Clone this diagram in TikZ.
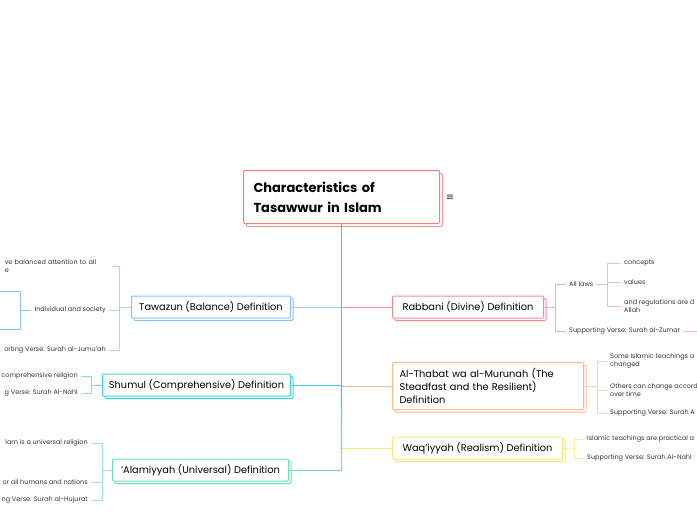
\documentclass[tikz,border=0pt]{standalone}
\usepackage{fontspec}
\setmainfont{Poppins}
\newfontfamily\symfont{DejaVu Sans}
\usetikzlibrary{positioning,shadows,calc}

\definecolor{rootred}{HTML}{F47C7C}
\definecolor{trunkteal}{HTML}{3CCFB3}
\definecolor{tawblue}{HTML}{8AC1F5}
\definecolor{shumcyan}{HTML}{3FD3D6}
\definecolor{almint}{HTML}{6EDFB5}
\definecolor{rabred}{HTML}{F78B8B}
\definecolor{thaorange}{HTML}{FDBA8C}
\definecolor{waqyellow}{HTML}{F6E77A}
\definecolor{leaftext}{HTML}{333333}

\tikzset{
	rootbox/.style={draw=rootred, fill=white, line width=1pt, rounded corners=1pt,
		copy shadow={shadow xshift=3pt, shadow yshift=-3pt, draw=rootred!80, fill=white},
		font=\fontsize{13}{20}\selectfont\bfseries, align=left, text width=176pt,
		inner xsep=10pt, minimum height=53pt, anchor=north west},
	topic/.style={draw=#1, fill=white, line width=1pt, rounded corners=1pt,
		copy shadow={shadow xshift=2.5pt, shadow yshift=-2.5pt, draw=#1, fill=white},
		font=\fontsize{9.8}{12.8}\selectfont, minimum height=22pt, inner xsep=6pt, anchor=west},
	leaf/.style={font=\fontsize{6.5}{8.5}\selectfont, text=leaftext, inner xsep=3pt, inner ysep=1pt, align=left},
	link/.style={draw=#1, line width=0.9pt},
}

\begin{document}
\begin{tikzpicture}[x=1pt, y=-1pt]
	\useasboundingbox (0,0) rectangle (697,520);

	% central topic
	\node[rootbox] (root) at (243,170) {Characteristics of\\Tasawwur in Islam};
	\node[font=\symfont\fontsize{10}{10}\selectfont, text=black!80] (menu) at (450,198) {≡};

	% main topics
	\node[topic=tawblue, minimum width=159pt] (tawazun) at (131,307) {Tawazun (Balance) Definition};
	\node[topic=shumcyan, minimum width=188pt] (shumul) at (102,385) {Shumul (Comprehensive) Definition};
	\node[topic=almint, minimum width=176pt] (alamiyyah) at (112,470) {'Alamiyyah (Universal) Definition};
	\node[topic=rabred, minimum width=151pt] (rabbani) at (392,307) {Rabbani (Divine) Definition};
	\node[topic=thaorange, minimum width=191pt, minimum height=47pt, text width=177pt, align=left,
		inner xsep=7pt] (thabat) at (392,386) {Al-Thabat wa al-Murunah (The\\Steadfast and the Resilient)\\Definition};
	\node[topic=waqyellow, minimum width=170pt] (waqiyyah) at (392,448) {Waq'iyyah (Realism) Definition};

	% trunk
	\draw[link=trunkteal, line width=1.2pt] (root.south) -- (root.south |- shumul.east);
	\shade[top color=trunkteal, bottom color=almint!80]
		($(root.south |- shumul.east)+(-0.6,0)$) rectangle ($(root.south |- alamiyyah.east)+(0.6,0)$);
	\draw[link=tawblue!80] (tawazun.east) -- (tawazun.east -| root.south);
	\draw[link=shumcyan] (shumul.east) -- (shumul.east -| root.south);
	\draw[link=almint] (alamiyyah.east) -- (alamiyyah.east -| root.south);
	\draw[link=rabred] (root.south |- rabbani.west) -- (rabbani.west);
	\draw[link=thaorange] (root.south |- thabat.west) -- (thabat.west);
	\draw[link=waqyellow] (root.south |- waqiyyah.west) -- (waqiyyah.west);

	% Tawazun
	\node[leaf, anchor=east, text width=104pt] (tw1) at (112,266) {ve balanced attention to all\\e};
	\node[leaf, anchor=east] (tw2) at (109,310) {Individual and society};
	\node[leaf, anchor=east] (tw3) at (109,350) {orting Verse: Surah al-Jumu'ah};
	\coordinate (tw21) at (0,291);
	\coordinate (tw22) at (0,329);
	\foreach \t in {tw1,tw2,tw3}
		\draw[link=tawblue!70] (tawazun.west) -- ++(-12,0) |- (\t.east);
	\foreach \t in {tw21,tw22}
		\draw[link=tawblue] (tw2.west) -- ++(-11,0) |- (\t);

	% Shumul
	\node[leaf, anchor=east] (sh1) at (81,376) {comprehensive religion};
	\node[leaf, anchor=east] (sh2) at (81,393) {g Verse: Surah Al-Nahl};
	\foreach \t in {sh1,sh2}
		\draw[link=shumcyan!70] (shumul.west) -- ++(-11,0) |- (\t.east);

	% 'Alamiyyah
	\node[leaf, anchor=east] (al1) at (91,443) {lam is a universal religion};
	\node[leaf, anchor=east] (al2) at (91,482) {or all humans and nations};
	\node[leaf, anchor=east] (al3) at (91,500) {ng Verse: Surah al-Hujurat};
	\foreach \t in {al1,al2,al3}
		\draw[link=almint!70] (alamiyyah.west) -- ++(-10,0) |- (\t.east);

	% Rabbani
	\node[leaf, anchor=west] (rb1) at (566,284) {All laws};
	\node[leaf, anchor=west] (rb2) at (566,331) {Supporting Verse: Surah al-Zumar};
	\coordinate (rb21) at (697,331);
	\node[leaf, anchor=west] (rb11) at (621,263) {concepts};
	\node[leaf, anchor=west] (rb12) at (621,282) {values};
	\node[leaf, anchor=west] (rb13) at (621,306) {and regulations are d\\Allah};
	\foreach \t in {rb1,rb2}
		\draw[link=rabred!70] (rabbani.east) -- ++(11,0) |- (\t.west);
	\draw[link=rabred!60] (rb2.east) -- (rb21);
	\foreach \t in {rb11,rb12,rb13}
		\draw[link=rabred!60] (rb1.east) -- ++(11,0) |- (\t.west);

	% Al-Thabat wa al-Murunah
	\node[leaf, anchor=west] (th1) at (607,361) {Some Islamic teachings a\\changed};
	\node[leaf, anchor=west] (th2) at (607,390) {Others can change accord\\over time};
	\node[leaf, anchor=west] (th3) at (607,413) {Supporting Verse: Surah A};
	\foreach \t in {th1,th2,th3}
		\draw[link=thaorange!70] (thabat.east) -- ++(13,0) |- (\t.west);

	% Waq'iyyah
	\node[leaf, anchor=west] (wq1) at (584,439) {Islamic teachings are practical a};
	\node[leaf, anchor=west] (wq2) at (584,458) {Supporting Verse: Surah Al-Nahl};
	\foreach \t in {wq1,wq2}
		\draw[link=waqyellow!70] (waqiyyah.east) -- ++(11,0) |- (\t.west);
\end{tikzpicture}
\end{document}
